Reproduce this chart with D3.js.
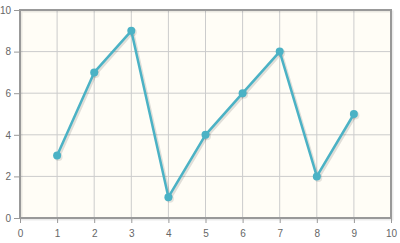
<!DOCTYPE html>
<html>
<head>
<meta charset="utf-8">
<script src="https://cdn.jsdelivr.net/npm/d3@7"></script>
<style>
  body { margin: 0; background: #fff; }
  svg { display: block; font-family: "Liberation Sans", Arial, sans-serif; }
</style>
</head>
<body>
<svg class="chart"></svg>
<script>
var xs = [1, 2, 3, 4, 5, 6, 7, 8, 9];
var ys = [3, 7, 9, 1, 4, 6, 8, 2, 5];
var xTicks = [0, 1, 2, 3, 4, 5, 6, 7, 8, 9, 10];
var yTicks = [0, 2, 4, 6, 8, 10];

var W = 400, H = 243;
var m = [10, 9, 25, 20]; // top right bottom left
var w = W - m[1] - m[3], h = H - m[0] - m[2];

var svg = d3.select(".chart").attr("width", W).attr("height", H);
var g = svg.append("g").attr("transform", "translate(" + m[3] + "," + m[0] + ")");

var x = d3.scaleLinear().domain([0, 10]).range([0, w]);
var y = d3.scaleLinear().domain([0, 10]).range([h, 0]);

// background
g.append("rect").attr("width", w).attr("height", h).attr("fill", "#fffdf6");

// grid
g.selectAll(".gx").data(xTicks.slice(1, -1)).enter().append("line")
  .attr("x1", function(d) { return x(d); }).attr("x2", function(d) { return x(d); })
  .attr("y1", 0).attr("y2", h)
  .attr("stroke", "#cccccc").attr("stroke-width", 1);
g.selectAll(".gy").data(yTicks.slice(1, -1)).enter().append("line")
  .attr("y1", function(d) { return y(d); }).attr("y2", function(d) { return y(d); })
  .attr("x1", 0).attr("x2", w)
  .attr("stroke", "#cccccc").attr("stroke-width", 1);

// border with soft shadow
g.append("rect").attr("x", 1.5).attr("y", 1.5).attr("width", w).attr("height", h)
  .attr("fill", "none").attr("stroke", "rgba(0,0,0,0.08)").attr("stroke-width", 2);
g.append("rect").attr("width", w).attr("height", h)
  .attr("fill", "none").attr("stroke", "#999999").attr("stroke-width", 2);

// axes
var xAxis = g.append("g").attr("transform", "translate(0," + (h + 1) + ")")
  .call(d3.axisBottom(x).tickValues(xTicks).tickSize(4).tickPadding(7).tickFormat(d3.format("d")));
var yAxis = g.append("g").attr("transform", "translate(-1,0)")
  .call(d3.axisLeft(y).tickValues(yTicks).tickSize(5).tickPadding(3).tickFormat(d3.format("d")));
[xAxis, yAxis].forEach(function(a) {
  a.select(".domain").remove();
  a.selectAll(".tick line").attr("stroke", "#999999");
  a.selectAll(".tick text").attr("fill", "#666666").style("font-size", "10px");
});

var pts = xs.map(function(d, i) { return [x(d), y(ys[i])]; });
var line = d3.line();

// shadow
var sh = g.append("g").attr("transform", "translate(1.5,1.5)");
sh.append("path").attr("d", line(pts)).attr("fill", "none")
  .attr("stroke", "rgba(0,0,0,0.12)").attr("stroke-width", 3).attr("stroke-linejoin", "round");
sh.selectAll("circle").data(pts).enter().append("circle")
  .attr("cx", function(d) { return d[0]; }).attr("cy", function(d) { return d[1]; })
  .attr("r", 4).attr("fill", "rgba(0,0,0,0.1)");

g.append("path").attr("d", line(pts)).attr("fill", "none")
  .attr("stroke", "#4bb2c5").attr("stroke-width", 2.5).attr("stroke-linejoin", "round");
g.selectAll(".pt").data(pts).enter().append("circle")
  .attr("cx", function(d) { return d[0]; }).attr("cy", function(d) { return d[1]; })
  .attr("r", 4).attr("fill", "#4bb2c5");
</script>
</body>
</html>
